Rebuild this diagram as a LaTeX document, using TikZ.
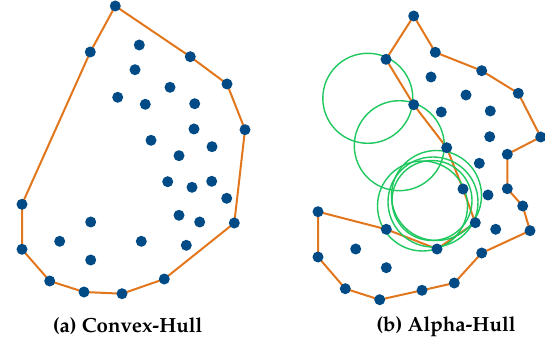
\documentclass[tikz,border=0pt]{standalone}
\usepackage[T1]{fontenc}
\usepackage{mathpazo}
\definecolor{hullorange}{RGB}{226,118,28}
\definecolor{dotblue}{RGB}{0,74,134}
\definecolor{circgreen}{RGB}{30,200,95}
\tikzset{
  hull/.style={draw=hullorange,line width=2pt,line join=round},
  dotmark/.style={circle,fill=dotblue,inner sep=0pt,minimum size=11pt},
  alphacirc/.style={draw=circgreen,line width=1.4pt},
  caption/.style={font=\fontsize{20.5}{24}\selectfont\bfseries,inner sep=0pt}
}
\begin{document}
\begin{tikzpicture}[x=1pt,y=-1pt]
\useasboundingbox (0,0) rectangle (545,344);
% ---------- (a) convex hull ----------
\foreach \n/\x/\y in {A1/115.3/6, A2/190.3/56.7, A3/227/84, A4/245/129.7, A5/234.3/223,
  A6/164.3/279, A7/122/293.7, A8/84/292, A9/49.7/281, A10/22/249.3, A11/22/204.3, A12/90.3/52,
  a1/139.3/45, a2/135/69.7, a3/170/87.3, a4/117.7/97.3, a5/145.3/104.3, a6/194.7/103.7,
  a7/194/129, a8/151/140.3, a9/212/146.7, a10/179/155.7, a11/167.7/181.7, a12/192/187.3,
  a13/211.7/181.3, a14/226.7/198.3, a15/90.7/222, a16/179/215.3, a17/199.7/222,
  a18/59.7/241.3, a19/141.3/241.3, a20/186.3/245.3, a21/90.7/260}
  \coordinate (\n) at (\x,\y);
\draw[hull] (A1) -- (A2) -- (A3) -- (A4) -- (A5) -- (A6) -- (A7) -- (A8) -- (A9)
  -- (A10) -- (A11) -- (A12) -- cycle;
\foreach \n in {A1,A2,A3,A4,A5,A6,A7,A8,A9,A10,A11,A12,
  a1,a2,a3,a4,a5,a6,a7,a8,a9,a10,a11,a12,a13,a14,a15,a16,a17,a18,a19,a20,a21}
  \node[dotmark] (d\n) at (\n) {};
\node[caption] (capa) at (127.7,326.7) {(a) Convex-Hull};
% ---------- (b) alpha hull ----------
\foreach \n/\x/\y in {B1/413.7/16, B2/435.3/52.3, B3/481.7/70.7, B4/518.3/93.3, B5/540.7/137,
  B6/507.3/154.3, B7/507.3/188.7, B8/522.7/206, B9/530/230.7, B10/481.7/253, B11/454.3/283,
  B12/422/290.3, B13/379.7/299.7, B14/345.3/288.7, B15/318/257, B16/318/211.7,
  B17/386.3/229.3, B18/437/249, B19/475.3/222.7, B20/463/189, B21/446.7/147.7,
  B22/413.7/104.7, B23/386/59.3,
  b1/431/77, b2/466/95, b3/441.3/112, b4/490.3/111, b5/489.7/136.7, b6/479.3/163.3,
  b7/488/195, b8/495.7/229.3, b9/355.7/249, b10/386.3/267.7}
  \coordinate (\n) at (\x,\y);
\draw[hull] (B1) -- (B2) -- (B3) -- (B4) -- (B5) -- (B6) -- (B7) -- (B8) -- (B9)
  -- (B10) -- (B11) -- (B12) -- (B13) -- (B14) -- (B15) -- (B16) -- (B17) -- (B18)
  -- (B19) -- (B20) -- (B21) -- (B22) -- (B23) -- cycle;
\draw[alphacirc] (367.8,98.3) circle[radius=45];
\draw[alphacirc] (399.3,145.7) circle[radius=45];
\draw[alphacirc] (436.5,195.5) circle[radius=45];
\draw[alphacirc] (422.5,206) circle[radius=45];
\draw[alphacirc] (433,202) circle[radius=45];
\draw[alphacirc] (432,200.5) circle[radius=40];
\foreach \n in {B1,B2,B3,B4,B5,B6,B7,B8,B9,B10,B11,B12,B13,B14,B15,B16,B17,B18,B19,B20,B21,B22,B23,
  b1,b2,b3,b4,b5,b6,b7,b8,b9,b10}
  \node[dotmark] (d\n) at (\n) {};
\node[caption] (capb) at (446,326.7) {(b) Alpha-Hull};
\end{tikzpicture}
\end{document}
